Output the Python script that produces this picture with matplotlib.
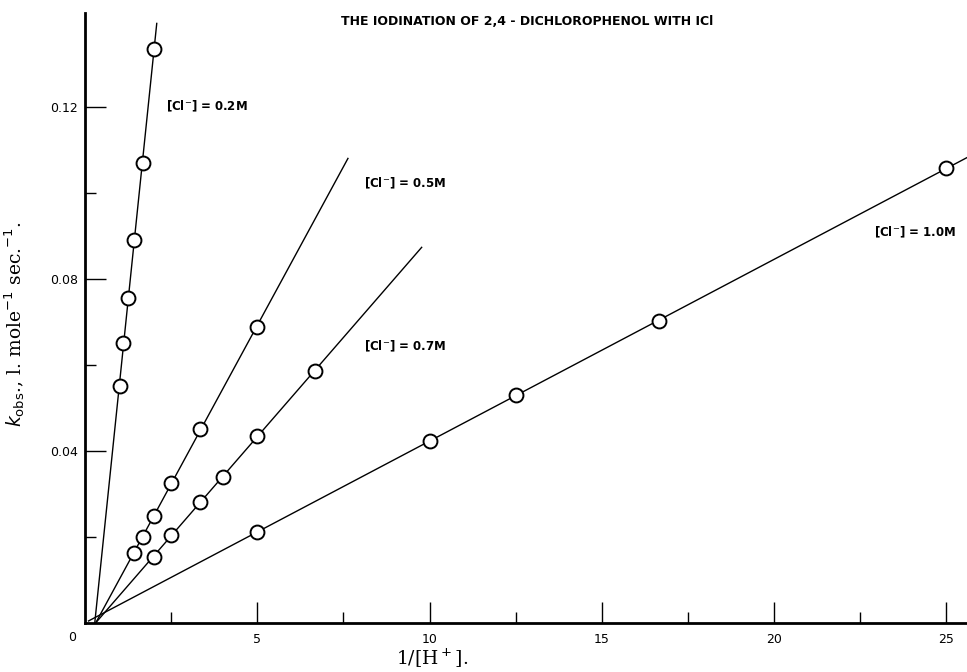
import numpy as np
import matplotlib.pyplot as plt

# --- data: 1/[H+] vs k_obs for each chloride level ---
labels = ["[Cl$^{-}$] = 0.2M", "[Cl$^{-}$] = 0.5M", "[Cl$^{-}$] = 0.7M", "[Cl$^{-}$] = 1.0M"]

x_02 = [1.0, 1.11, 1.25, 1.43, 1.67, 2.0]
k_02 = [0.055, 0.065, 0.0756, 0.089, 0.107, 0.1335]

x_05 = [1.43, 1.67, 2.0, 2.5, 3.33, 5.0]
k_05 = [0.0163, 0.020, 0.0249, 0.0326, 0.0451, 0.0689]

x_07 = [2.0, 2.5, 3.33, 4.0, 5.0, 6.67]
k_07 = [0.0153, 0.0205, 0.0281, 0.034, 0.0435, 0.0586]

x_10 = [5.0, 10.0, 12.5, 16.67, 25.0]
k_10 = [0.0212, 0.0423, 0.053, 0.0702, 0.1058]

# where each drawn line stops on the right
line_end = [2.08, 7.63, 9.77, 25.7]

series = [(x_02, k_02), (x_05, k_05), (x_07, k_07), (x_10, k_10)]

fig = plt.figure(figsize=(9.67, 6.72), dpi=100)
ax = fig.add_axes([0.088, 0.073, 0.912, 0.908])

for (xs, ks), xe in zip(series, line_end):
    slope, icpt = np.polyfit(xs, ks, 1)
    x0 = max(-icpt / slope, 0.1)
    xx = np.array([x0, xe])
    ax.plot(xx, slope * xx + icpt, color='black', lw=1.0, zorder=2)
    ax.plot(xs, ks, 'o', ms=10, mfc='white', mec='black', mew=1.4, zorder=3)

# curve labels
lab_kw = dict(fontsize=8.5, fontweight='bold', va='center')
ax.text(2.34, 0.1202, labels[0], **lab_kw)
ax.text(8.1, 0.1023, labels[1], **lab_kw)
ax.text(8.1, 0.0642, labels[2], **lab_kw)
ax.text(22.9, 0.0909, labels[3], **lab_kw)

ax.set_xlim(0, 25.6)
ax.set_ylim(0, 0.1419)

for s in ['top', 'right']:
    ax.spines[s].set_visible(False)
ax.spines['left'].set_linewidth(2.0)
ax.spines['bottom'].set_linewidth(2.0)

ax.set_xticks([5, 10, 15, 20, 25])
ax.set_xticks([2.5, 7.5, 12.5, 17.5, 22.5], minor=True)
ax.set_yticks([0.04, 0.08, 0.12])
ax.set_yticklabels(['0.04', '0.08', '0.12'])
ax.set_yticks([0.02, 0.06, 0.10], minor=True)
ax.tick_params(which='major', direction='in', length=15, width=1.0, labelsize=9)
ax.tick_params(which='minor', direction='in', length=8, width=1.0)
ax.tick_params(axis='x', pad=7)
ax.tick_params(axis='y', pad=5)
ax.text(-0.25, -0.0035, '0', ha='right', va='center', fontsize=9)

ax.set_xlabel('1/[H$^+$].', family='serif', fontsize=13.5)
ax.xaxis.set_label_coords((432 - 85) / 882, -0.04)
ax.set_ylabel(r'$k_{\mathrm{obs}}$., l. mole$^{-1}$ sec.$^{-1}$.', family='serif', fontsize=13.5)
ax.yaxis.set_label_coords(-0.066, 0.49)

fig.text(0.545, 0.968, 'THE IODINATION OF 2,4 - DICHLOROPHENOL WITH ICl',
         ha='center', va='center', fontsize=9, fontweight='bold')

fig.savefig('out.png', dpi=100)
